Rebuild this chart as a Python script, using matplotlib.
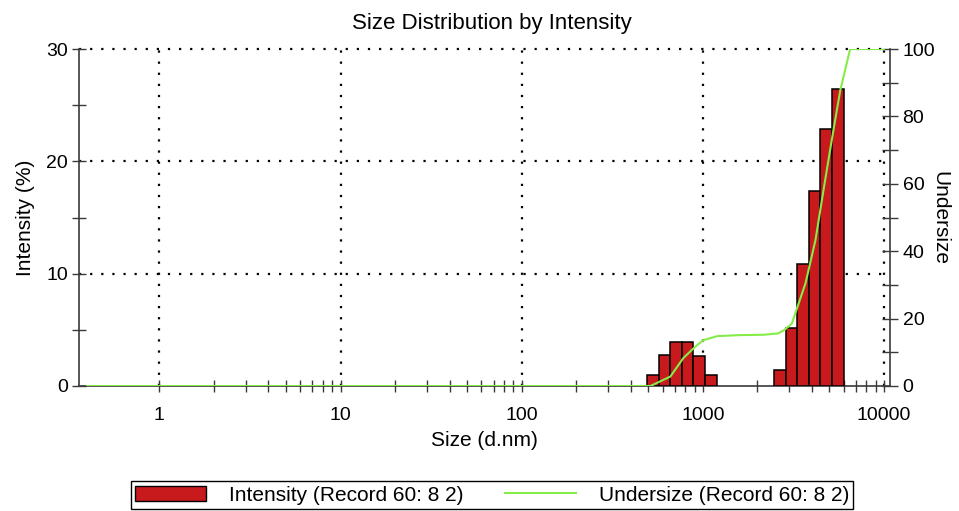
import numpy as np
import matplotlib.pyplot as plt
from matplotlib.ticker import LogLocator, NullFormatter, MultipleLocator, FixedLocator

# ============================== DATA ==============================

# size class centres [d.nm] and intensity [%]
size_cls = [531.2, 615.1, 712.4, 825.0, 955.4, 1106.0,
            2669.0, 3091.0, 3580.0, 4145.0, 4801.0, 5560.0]
intensity = [1.0, 2.8, 3.95, 3.95, 2.7, 1.0,
             1.4, 5.2, 10.9, 17.4, 22.9, 26.4]

# undersize curve
us_size = [0.4, 514, 662, 781, 910, 1006, 1202, 1600, 2153, 2600, 2800,
           3100, 3690, 4188, 4640, 5152, 5742, 6508, 10000]
us_val = [0, 0, 2.8, 8.3, 11.7, 13.6, 14.8, 15.1, 15.2, 15.6, 16.5,
          18.5, 30.5, 43.3, 58.2, 73.0, 87.8, 100, 100]

x_major = [1, 10, 100, 1000, 10000]
x_labels = ['1', '10', '100', '1000', '10000']

# ============================== PLOT STUFF =============================
plt.rcParams['font.family'] = ['Liberation Sans', 'DejaVu Sans']

red = '#c8191c'
green = '#86ec48'
spine_c = '#3a3a3a'
dotted = (0, (1, 4))

fig = plt.figure(figsize=(9.59, 5.11), dpi=100)
ax = fig.add_axes([79/959, 1-386/511, (890-79)/959, (386-49)/511])
ax2 = ax.twinx()

# bars span one log size class
c = np.array(size_cls)
half = 1.0762
left = c/half
ax.bar(left, intensity, width=c*half-left, align='edge', color=red,
       edgecolor='black', linewidth=1.1, zorder=3)

ax2.plot(us_size, us_val, color=green, lw=1.5, zorder=4)

ax.set_xscale('log')
ax.set_xlim(0.36, 10800)
ax.set_ylim(0, 30)
ax2.set_ylim(0, 100)

# minor ticks only from 2 upwards
minors = [m*10**d for d in range(0, 4) for m in range(2, 10)]
ax.xaxis.set_major_locator(FixedLocator(x_major))
ax.set_xticklabels(x_labels)
ax.xaxis.set_minor_locator(FixedLocator(minors))
ax.xaxis.set_minor_formatter(NullFormatter())
ax.yaxis.set_major_locator(MultipleLocator(10))
ax.yaxis.set_minor_locator(MultipleLocator(5))
ax2.yaxis.set_major_locator(MultipleLocator(20))
ax2.yaxis.set_minor_locator(MultipleLocator(10))

# dotted grid
for xv in x_major:
    ax.axvline(xv, color='black', lw=1.6, ls=dotted, zorder=1)
for yv in [10, 20, 30]:
    ax.axhline(yv, color='black', lw=1.6, ls=dotted, zorder=1, clip_on=False)

for a in (ax, ax2):
    a.spines['top'].set_visible(False)
    for s in ['left', 'right', 'bottom']:
        a.spines[s].set_color(spine_c)
        a.spines[s].set_linewidth(1.2)
ax2.spines['left'].set_visible(False)
ax2.spines['bottom'].set_visible(False)
ax.spines['right'].set_visible(False)

ax.tick_params(axis='both', which='both', direction='inout', length=10,
               width=1.0, color=spine_c, labelsize=14)
ax.tick_params(axis='x', which='both', length=8, pad=11)
ax.tick_params(axis='y', pad=3)
ax2.tick_params(axis='y', which='both', direction='inout', length=12,
                width=1.0, color=spine_c, labelsize=14, pad=3)

ax.set_xlabel('Size (d.nm)', fontsize=15, labelpad=5)
ax.set_ylabel('Intensity (%)', fontsize=15, labelpad=8)
ax2.set_ylabel('Undersize', fontsize=15, rotation=-90, labelpad=10)
fig.text(492/959, 1-23/511, 'Size Distribution by Intensity',
         fontsize=16, ha='center', va='center')

# legend
h1 = plt.Rectangle((0, 0), 1, 1, facecolor=red, edgecolor='black', lw=1)
h2 = plt.Line2D([], [], color=green, lw=1.5)
leg = fig.legend([h1, h2], ['Intensity (Record 60: 8 2)', 'Undersize (Record 60: 8 2)'],
                 loc='center', bbox_to_anchor=(492/959, 1-495/511), ncol=2,
                 fancybox=False, edgecolor='black', framealpha=1,
                 prop={'size': 15},
                 handlelength=3.4, handleheight=0.75, handletextpad=1.1,
                 columnspacing=2.0, borderpad=0.2, borderaxespad=0)
leg.get_frame().set_linewidth(1.0)

plt.savefig('out.png', dpi=100)
